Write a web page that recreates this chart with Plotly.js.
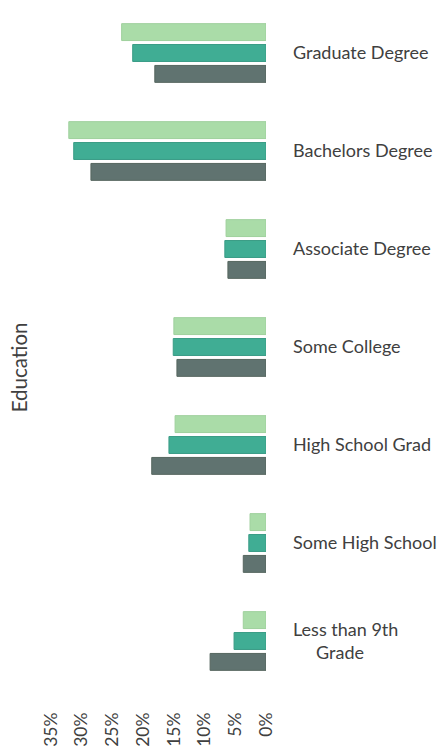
<!DOCTYPE html>
<html>
<head>
<meta charset="utf-8">
<script src="https://cdn.plot.ly/plotly-3.0.1.min.js"></script>
<style>html,body{margin:0;padding:0;background:#fff;}#chart{width:443px;height:756px;}</style>
</head>
<body>
<div id="chart"></div>
<script>
// Categories listed bottom to top
var categories = ["Less than 9th<br>\u00A0\u00A0\u00A0\u00A0\u00A0Grade", "Some High School", "High School Grad", "Some College", "Associate Degree", "Bachelors Degree", "Graduate Degree"];
// Series values (percent), same order as categories
var seriesGray  = [9.1, 3.7, 18.6, 14.5, 6.2, 28.5, 18.1];
var seriesTeal  = [5.2, 2.8, 15.8, 15.1, 6.7, 31.3, 21.7];
var seriesLight = [3.7, 2.6, 14.8, 15.0, 6.5, 32.1, 23.5];
var tickValues = [35, 30, 25, 20, 15, 10, 5, 0];
var tickLabels = ["35%", "30%", "25%", "20%", "15%", "10%", "5%", "0%"];

function bar(name, vals, color, line) {
  return {type: "bar", orientation: "h", name: name, y: categories, x: vals,
    marker: {color: color, line: {color: line, width: 1}}, hoverinfo: "x+y"};
}
var data = [
  bar("Series 3", seriesGray, "#607370", "#56665f"),
  bar("Series 2", seriesTeal, "#40ad94", "#3a9c86"),
  bar("Series 1", seriesLight, "#aadca8", "#9fd09d")
];
var font = "Lato, 'Open Sans', sans-serif";
var layout = {
  width: 443, height: 756,
  margin: {l: 51, r: 177, t: 4, b: 66},
  paper_bgcolor: "#fff", plot_bgcolor: "#fff",
  barmode: "group", bargap: 0.36, bargroupgap: 0.19,
  showlegend: false,
  font: {family: font, color: "#404040"},
  xaxis: {range: [35, 0], tickvals: tickValues, ticktext: tickLabels, tickangle: -90,
    showgrid: false, zeroline: false, showline: false, ticks: "",
    ticklabelstandoff: 18, tickfont: {size: 17.5, color: "#404040", family: font}, fixedrange: true},
  yaxis: {type: "category", categoryorder: "array", categoryarray: categories, side: "right",
    showgrid: false, zeroline: false, showline: false, ticks: "",
    ticklabelstandoff: 26, tickfont: {size: 18, color: "#404040", family: font}, fixedrange: true},
  annotations: [{text: "Education", xref: "paper", yref: "paper", x: -0.15, y: 0.47,
    xanchor: "center", yanchor: "middle", textangle: -90, showarrow: false,
    font: {size: 20.5, color: "#404040", family: font}}]
};
Plotly.newPlot("chart", data, layout, {displayModeBar: false, staticPlot: true});
</script>
</body>
</html>
